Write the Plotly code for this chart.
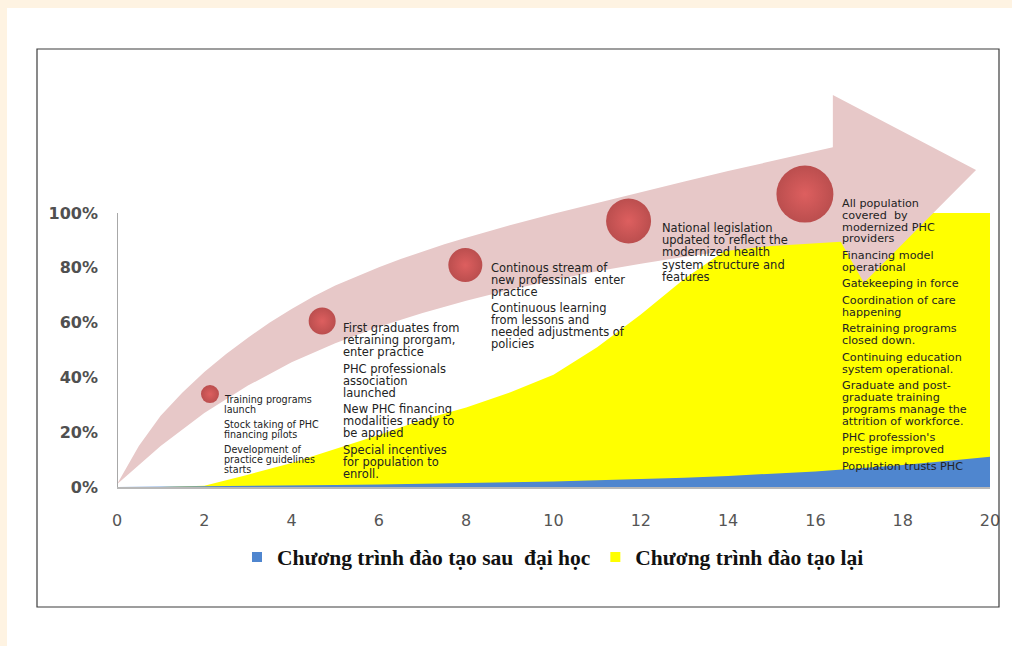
import plotly.graph_objects as go

# ---- data ----
years = list(range(0, 21))
retraining = [0.0, 0.0, 0.005, 0.045, 0.088, 0.14, 0.19, 0.245, 0.29, 0.345, 0.41,
              0.51, 0.63, 0.76, 0.87, 0.94, 0.98, 1.0, 1.0, 1.0, 1.0]
postgrad = [0.0, 0.001, 0.002, 0.003, 0.005, 0.007, 0.009, 0.011, 0.014, 0.017, 0.02,
            0.024, 0.028, 0.034, 0.04, 0.048, 0.057, 0.068, 0.08, 0.095, 0.11]

y_ticks = [0, 0.2, 0.4, 0.6, 0.8, 1.0]
y_labels = ["0%", "20%", "40%", "60%", "80%", "100%"]
x_ticks = list(range(0, 21, 2))

series_names = ["Chương trình đào tạo sau  đại học", "Chương trình đào tạo lại"]

# curved arrow: upper edge, head, lower edge (traced back to the origin)
upper_x = [0, 0.5, 1, 1.5, 2, 2.5, 3, 3.5, 4, 4.5, 5, 5.5, 6, 6.5, 7, 7.5, 8,
           9, 10, 11, 12, 13, 14, 15, 16.4]
upper_y = [0.01, 0.15, 0.26, 0.345, 0.42, 0.485, 0.545, 0.6, 0.65, 0.695, 0.735, 0.77,
           0.802, 0.832, 0.86, 0.886, 0.91, 0.955, 0.997, 1.037, 1.076, 1.115, 1.153,
           1.19, 1.24]
head_x = [16.40, 19.68, 17.11, 16.58]
head_y = [1.431, 1.157, 0.745, 0.895]
lower_x = [15, 14, 13, 12, 11, 10, 9, 8, 7, 6, 5, 4, 3, 2, 1, 0]
lower_y = [0.88, 0.862, 0.84, 0.815, 0.787, 0.755, 0.72, 0.68, 0.635, 0.585, 0.525,
           0.455, 0.37, 0.27, 0.15, 0.01]

# milestones (red balls)
stone_x = [2.13, 4.70, 7.98, 11.72, 15.76]
stone_y = [0.339, 0.606, 0.810, 0.971, 1.069]
stone_size = [18, 27, 34, 45, 57]

notes = [
    [["Training programs", "launch"],
     ["Stock taking of PHC", "financing pilots"],
     ["Development of", "practice guidelines", "starts"]],
    [["First graduates from", "retraining prorgam,", "enter practice"],
     ["PHC professionals", "association", "launched"],
     ["New PHC financing", "modalities ready to", "be applied"],
     ["Special incentives", "for population to", "enroll."]],
    [["Continous stream of", "new professinals  enter", "practice"],
     ["Continuous learning", "from lessons and", "needed adjustments of", "policies"]],
    [["National legislation", "updated to reflect the", "modernized health",
      "system structure and", "features"]],
    [["All population", "covered  by", "modernized PHC", "providers"],
     ["Financing model", "operational"],
     ["Gatekeeping in force"],
     ["Coordination of care", "happening"],
     ["Retraining programs", "closed down."],
     ["Continuing education", "system operational."],
     ["Graduate and post-", "graduate training", "programs manage the", "attrition of workforce."],
     ["PHC profession's", "prestige improved"],
     ["Population trusts PHC"]],
]
# x of text column, y of first line centre, font size, line step, paragraph gap
note_place = [
    (2.40, 0.321, 9.6, 0.0376, 0.0165),
    (5.13, 0.580, 11.5, 0.0435, 0.018),
    (8.52, 0.799, 11.5, 0.0430, 0.018),
    (12.44, 0.945, 11.5, 0.0445, 0.0),
    (16.56, 1.036, 11.2, 0.0436, 0.0165),
]

# ---- geometry of the page ----
W, H = 1012, 646
L, R, T, B = 117, 22, 76, 159
YMAX = 1.5


def px(xp):
    return (xp - L) / (W - L - R)


def py(yp):
    return (H - B - yp) / (H - T - B)


BLUE = "#4F86CF"
YELLOW = "#FFFF00"
PINK = "#E7C8C8"
TXT = "#232323"

fig = go.Figure()

fig.add_trace(go.Scatter(x=years, y=retraining, mode="lines", fill="tozeroy",
                         line=dict(width=0, color=YELLOW), fillcolor=YELLOW,
                         showlegend=False, hoverinfo="skip"))
fig.add_trace(go.Scatter(x=years, y=postgrad, mode="lines", fill="tozeroy",
                         line=dict(width=0, color=BLUE), fillcolor=BLUE,
                         showlegend=False, hoverinfo="skip"))
fig.add_trace(go.Scatter(x=upper_x + head_x + lower_x, y=upper_y + head_y + lower_y,
                         mode="lines", fill="toself",
                         line=dict(width=0, color=PINK), fillcolor=PINK,
                         showlegend=False, hoverinfo="skip"))
fig.add_trace(go.Scatter(x=stone_x, y=stone_y, mode="markers",
                         marker=dict(size=stone_size, color="#A81A1A",
                                     gradient=dict(type="radial", color="#D93232"),
                                     line=dict(width=0)),
                         showlegend=False, hoverinfo="skip"))

# legend entries
for name, col in zip(series_names, [BLUE, YELLOW]):
    fig.add_trace(go.Scatter(x=[None], y=[None], mode="markers", name=name,
                             marker=dict(symbol="square", size=10, color=col)))

annotations = []
for block, (nx, ny, fs, step, gap) in zip(notes, note_place):
    y = ny
    for para in block:
        for line in para:
            annotations.append(dict(x=nx, y=y, xref="x", yref="y", text=line,
                                    showarrow=False, xanchor="left", yanchor="middle",
                                    font=dict(family="DejaVu Sans", size=fs, color=TXT)))
            y -= step
        y -= gap

shapes = [
    # white sheet over the cream page
    dict(type="rect", xref="paper", yref="paper", x0=px(7), x1=px(W + 10),
         y0=py(H + 10), y1=py(8), fillcolor="white", line=dict(width=0), layer="below"),
    # chart frame
    dict(type="rect", xref="paper", yref="paper", x0=px(37), x1=px(999),
         y0=py(607), y1=py(49), line=dict(color="#3c3c3c", width=1.2), layer="above"),
    # y axis line up to 100%
    dict(type="line", xref="x", yref="y", x0=0, x1=0, y0=0, y1=1,
         line=dict(color="#a8a8a8", width=2), layer="above"),
]

fig.update_layout(
    width=W, height=H,
    margin=dict(l=L, r=R, t=T, b=B),
    paper_bgcolor="#FEF3E2",
    plot_bgcolor="white",
    showlegend=True,
    legend=dict(orientation="h", x=px(553), xanchor="center", y=py(557), yanchor="middle",
                font=dict(family="Liberation Serif", size=21.5, color="#111111", weight="bold"),
                itemwidth=30, bgcolor="rgba(0,0,0,0)"),
    annotations=annotations,
    shapes=shapes,
)
fig.update_xaxes(range=[0, 20], tickvals=x_ticks, showgrid=False, zeroline=False,
                 showline=True, linecolor="#b8b8b8", linewidth=1.5,
                 ticklabelstandoff=18,
                 tickfont=dict(family="DejaVu Sans", size=16, color="#555555"))
fig.update_yaxes(range=[0, YMAX], tickvals=y_ticks, ticktext=y_labels, showgrid=False,
                 zeroline=False, showline=False, ticklabelstandoff=18,
                 tickfont=dict(family="DejaVu Sans", size=16, color="#505050", weight="bold"))

fig.write_html("out.html", config={"displayModeBar": False},
               post_script="document.body.style.margin='0px';")
